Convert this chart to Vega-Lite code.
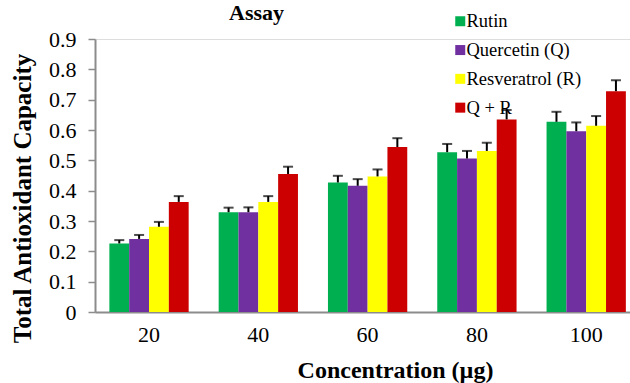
{
  "$schema": "https://vega.github.io/schema/vega-lite/v6.json",
  "width": 535,
  "height": 273,
  "autosize": {"type": "none"},
  "padding": {"left": 95, "top": 39, "right": 0, "bottom": 71},
  "background": "white",
  "title": {"text": "Assay", "font": "Liberation Serif", "fontSize": 22, "fontWeight": "bold", "color": "black", "anchor": "middle", "dx": -106, "offset": -13},
  "data": {"values": [
    {"Conc": "20", "Series": "Rutin", "Value": 0.226, "Upper": 0.237},
    {"Conc": "20", "Series": "Quercetin (Q)", "Value": 0.241, "Upper": 0.254},
    {"Conc": "20", "Series": "Resveratrol (R)", "Value": 0.281, "Upper": 0.297},
    {"Conc": "20", "Series": "Q + R", "Value": 0.363, "Upper": 0.382},
    {"Conc": "40", "Series": "Rutin", "Value": 0.329, "Upper": 0.344},
    {"Conc": "40", "Series": "Quercetin (Q)", "Value": 0.329, "Upper": 0.345},
    {"Conc": "40", "Series": "Resveratrol (R)", "Value": 0.363, "Upper": 0.382},
    {"Conc": "40", "Series": "Q + R", "Value": 0.455, "Upper": 0.479},
    {"Conc": "60", "Series": "Rutin", "Value": 0.427, "Upper": 0.449},
    {"Conc": "60", "Series": "Quercetin (Q)", "Value": 0.416, "Upper": 0.438},
    {"Conc": "60", "Series": "Resveratrol (R)", "Value": 0.447, "Upper": 0.470},
    {"Conc": "60", "Series": "Q + R", "Value": 0.544, "Upper": 0.573},
    {"Conc": "80", "Series": "Rutin", "Value": 0.527, "Upper": 0.554},
    {"Conc": "80", "Series": "Quercetin (Q)", "Value": 0.506, "Upper": 0.531},
    {"Conc": "80", "Series": "Resveratrol (R)", "Value": 0.531, "Upper": 0.558},
    {"Conc": "80", "Series": "Q + R", "Value": 0.635, "Upper": 0.666},
    {"Conc": "100", "Series": "Rutin", "Value": 0.627, "Upper": 0.660},
    {"Conc": "100", "Series": "Quercetin (Q)", "Value": 0.596, "Upper": 0.625},
    {"Conc": "100", "Series": "Resveratrol (R)", "Value": 0.614, "Upper": 0.646},
    {"Conc": "100", "Series": "Q + R", "Value": 0.728, "Upper": 0.764}
  ]},
  "config": {
    "axis": {"labelOverlap": false, "labelSeparation": -40},
    "axisY": {
      "labelOverlap": false, "labelBound": false, "labelSeparation": -40, "tickCount": 10,
      "grid": false, "tickSize": 7, "tickColor": "#8c8c8c", "tickWidth": 1.5, "labelPadding": 12,
      "labelFont": "Liberation Serif", "labelFontSize": 22, "labelColor": "black",
      "titleFont": "Liberation Serif", "titleFontSize": 25, "titleFontWeight": "bold", "titleColor": "black",
      "domainColor": "#8c8c8c", "domainWidth": 2
    }
  },
  "encoding": {
    "x": {
      "field": "Conc", "type": "nominal", "sort": ["20", "40", "60", "80", "100"],
      "scale": {"paddingInner": 0.2745, "paddingOuter": 0.0847, "align": 0.776},
      "axis": {
        "title": "Concentration (µg)", "labelAngle": 0, "ticks": false, "tickSize": 0,
        "labelPadding": 12, "labelFont": "Liberation Serif", "labelFontSize": 22, "labelColor": "black",
        "titleFont": "Liberation Serif", "titleFontSize": 24, "titleFontWeight": "bold", "titleColor": "black",
        "titleX": 300, "titleY": 65, "titleBaseline": "alphabetic", "titleAlign": "center",
        "domainColor": "#8c8c8c", "domainWidth": 2, "grid": false
      }
    },
    "xOffset": {"field": "Series", "type": "nominal", "sort": ["Rutin", "Quercetin (Q)", "Resveratrol (R)", "Q + R"], "scale": {"paddingInner": 0, "paddingOuter": 0}}
  },
  "layer": [
    {
      "mark": {"type": "bar"},
      "encoding": {
        "y": {
          "field": "Value", "type": "quantitative",
          "scale": {"domain": [0, 0.9], "nice": false},
          "axis": {
            "title": "Total Antioxidant Capacity", "values": [0, 0.1, 0.2, 0.3, 0.4, 0.5, 0.6, 0.7, 0.8, 0.9],
            "labelOverlap": false, "labelSeparation": -40, "tickCount": 10,
            "labelExpr": "datum.value == 0 ? '0' : format(datum.value, '.1f')",
            "titleX": -73, "titleY": 159, "titleAngle": -90, "titleAlign": "center", "titleBaseline": "middle"
          }
        },
        "color": {
          "field": "Series", "type": "nominal", "sort": ["Rutin", "Quercetin (Q)", "Resveratrol (R)", "Q + R"],
          "scale": {"domain": ["Rutin", "Quercetin (Q)", "Resveratrol (R)", "Q + R"], "range": ["#00B050", "#7030A0", "#FFFF00", "#CC0000"]},
          "legend": {
            "title": null, "orient": "none", "legendX": 356, "legendY": -27, "padding": 0,
            "symbolType": "square", "symbolSize": 100, "symbolStrokeWidth": 0,
            "labelFont": "Liberation Serif", "labelFontSize": 18.5, "labelColor": "black", "labelOffset": -3,
            "rowPadding": 9.8
          }
        }
      }
    },
    {
      "mark": {"type": "rule", "color": "black", "strokeWidth": 2},
      "encoding": {
        "y": {"field": "Value", "type": "quantitative"},
        "y2": {"field": "Upper"}
      }
    },
    {
      "mark": {"type": "tick", "color": "black", "thickness": 2, "size": 10},
      "encoding": {
        "y": {"field": "Upper", "type": "quantitative"}
      }
    }
  ]
}
